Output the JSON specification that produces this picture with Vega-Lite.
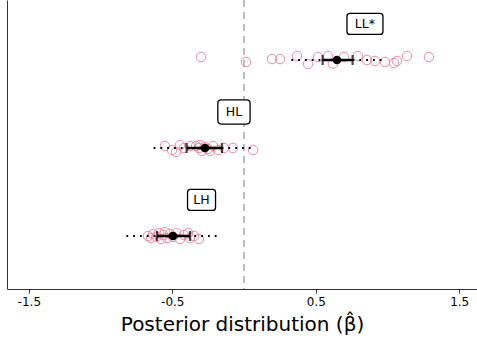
{
  "$schema": "https://vega.github.io/schema/vega-lite/v6.json",
  "width": 470,
  "height": 289,
  "autosize": {"type": "none"},
  "padding": {"left": 7, "top": 0, "right": 0, "bottom": 51},
  "background": "white",
  "config": {
    "view": {"stroke": null},
    "font": "DejaVu Sans",
    "axis": {"grid": false}
  },
  "datasets": {
    "points": [
      {"group": "LL*", "value": -0.300, "jitter": 0.034},
      {"group": "LL*", "value": 0.014, "jitter": -0.023},
      {"group": "LL*", "value": 0.195, "jitter": 0.011},
      {"group": "LL*", "value": 0.251, "jitter": 0.011},
      {"group": "LL*", "value": 0.369, "jitter": 0.045},
      {"group": "LL*", "value": 0.446, "jitter": -0.045},
      {"group": "LL*", "value": 0.516, "jitter": 0.034},
      {"group": "LL*", "value": 0.585, "jitter": 0.045},
      {"group": "LL*", "value": 0.620, "jitter": -0.040},
      {"group": "LL*", "value": 0.697, "jitter": 0.034},
      {"group": "LL*", "value": 0.794, "jitter": 0.045},
      {"group": "LL*", "value": 0.857, "jitter": 0.0},
      {"group": "LL*", "value": 0.913, "jitter": -0.011},
      {"group": "LL*", "value": 0.983, "jitter": -0.023},
      {"group": "LL*", "value": 1.045, "jitter": -0.034},
      {"group": "LL*", "value": 1.066, "jitter": -0.011},
      {"group": "LL*", "value": 1.136, "jitter": 0.045},
      {"group": "LL*", "value": 1.289, "jitter": 0.034},
      {"group": "HL", "value": -0.551, "jitter": 0.023},
      {"group": "HL", "value": -0.502, "jitter": -0.023},
      {"group": "HL", "value": -0.474, "jitter": -0.045},
      {"group": "HL", "value": -0.446, "jitter": 0.034},
      {"group": "HL", "value": -0.418, "jitter": 0.0},
      {"group": "HL", "value": -0.376, "jitter": 0.023},
      {"group": "HL", "value": -0.334, "jitter": 0.023},
      {"group": "HL", "value": -0.314, "jitter": 0.0},
      {"group": "HL", "value": -0.307, "jitter": 0.034},
      {"group": "HL", "value": -0.293, "jitter": -0.034},
      {"group": "HL", "value": -0.272, "jitter": 0.011},
      {"group": "HL", "value": -0.251, "jitter": -0.011},
      {"group": "HL", "value": -0.237, "jitter": -0.034},
      {"group": "HL", "value": -0.216, "jitter": 0.023},
      {"group": "HL", "value": -0.181, "jitter": -0.023},
      {"group": "HL", "value": -0.139, "jitter": 0.0},
      {"group": "HL", "value": -0.077, "jitter": 0.0},
      {"group": "HL", "value": 0.063, "jitter": -0.023},
      {"group": "LH", "value": -0.669, "jitter": 0.0},
      {"group": "LH", "value": -0.648, "jitter": -0.023},
      {"group": "LH", "value": -0.634, "jitter": 0.023},
      {"group": "LH", "value": -0.613, "jitter": -0.011},
      {"group": "LH", "value": -0.592, "jitter": 0.034},
      {"group": "LH", "value": -0.578, "jitter": -0.034},
      {"group": "LH", "value": -0.564, "jitter": 0.011},
      {"group": "LH", "value": -0.551, "jitter": 0.045},
      {"group": "LH", "value": -0.537, "jitter": -0.023},
      {"group": "LH", "value": -0.516, "jitter": 0.023},
      {"group": "LH", "value": -0.495, "jitter": -0.011},
      {"group": "LH", "value": -0.474, "jitter": 0.034},
      {"group": "LH", "value": -0.446, "jitter": -0.034},
      {"group": "LH", "value": -0.418, "jitter": 0.011},
      {"group": "LH", "value": -0.390, "jitter": 0.034},
      {"group": "LH", "value": -0.376, "jitter": -0.023},
      {"group": "LH", "value": -0.348, "jitter": 0.0},
      {"group": "LH", "value": -0.314, "jitter": -0.034}
    ],
    "summary": [
      {"group": "LL*", "mean": 0.648, "lo": 0.548, "hi": 0.757, "lo95": 0.33, "hi95": 0.97},
      {"group": "HL", "mean": -0.272, "lo": -0.40, "hi": -0.153, "lo95": -0.63, "hi95": 0.06},
      {"group": "LH", "mean": -0.495, "lo": -0.606, "hi": -0.376, "lo95": -0.82, "hi95": -0.18}
    ],
    "labels": [
      {"group": "LL*", "x": 0.843},
      {"group": "HL", "x": -0.070},
      {"group": "LH", "x": -0.296}
    ]
  },
  "layer": [
    {
      "data": {"values": [{"ref": 0}]},
      "mark": {"type": "rule", "color": "#bdbdbd", "strokeWidth": 2, "strokeDash": [7, 5]},
      "encoding": {
        "x": {
          "field": "ref",
          "type": "quantitative",
          "scale": {"domain": [-1.652, 1.624], "nice": false, "zero": false},
          "axis": {
            "values": [-1.5, -0.5, 0.5, 1.5],
            "labelExpr": "(datum.value < 0 ? '-' : '') + format(abs(datum.value), '.1f')",
            "title": "Posterior distribution (β̂)",
            "titleFont": "DejaVu Sans",
            "titleFontSize": 20,
            "titleFontWeight": "normal",
            "titleColor": "#000000",
            "titlePadding": 7,
            "labelFont": "DejaVu Sans",
            "labelFontSize": 12,
            "labelColor": "#000000",
            "labelPadding": 3,
            "tickSize": 4,
            "tickColor": "#333333",
            "domainColor": "#333333"
          }
        }
      }
    },
    {
      "data": {"name": "points"},
      "transform": [
        {"calculate": "indexof(['LH', 'HL', 'LL*'], datum.group) + 1 + datum.jitter", "as": "ypos"}
      ],
      "mark": {"type": "point", "shape": "circle", "filled": false, "stroke": "#e8819d", "strokeWidth": 1, "size": 90, "opacity": 0.9},
      "encoding": {
        "x": {"field": "value", "type": "quantitative"},
        "y": {
          "field": "ypos",
          "type": "quantitative",
          "scale": {"domain": [0.398, 3.682], "nice": false, "zero": false},
          "axis": {"title": null, "labels": false, "ticks": false, "domain": true, "domainColor": "#333333"}
        }
      }
    },
    {
      "data": {"name": "summary"},
      "transform": [
        {"calculate": "indexof(['LH', 'HL', 'LL*'], datum.group) + 1", "as": "ypos"}
      ],
      "layer": [
        {
          "mark": {"type": "rule", "color": "#000000", "strokeWidth": 2, "strokeDash": [1.8, 5], "strokeCap": "butt"},
          "encoding": {
            "x": {"field": "lo95", "type": "quantitative"},
            "x2": {"field": "hi95"},
            "y": {"field": "ypos", "type": "quantitative"}
          }
        },
        {
          "mark": {"type": "rule", "color": "#000000", "strokeWidth": 2.5},
          "encoding": {
            "x": {"field": "lo", "type": "quantitative"},
            "x2": {"field": "hi"},
            "y": {"field": "ypos", "type": "quantitative"}
          }
        },
        {
          "mark": {"type": "tick", "orient": "vertical", "size": 10, "thickness": 2.2, "color": "#000000"},
          "encoding": {
            "x": {"field": "lo", "type": "quantitative"},
            "y": {"field": "ypos", "type": "quantitative"}
          }
        },
        {
          "mark": {"type": "tick", "orient": "vertical", "size": 10, "thickness": 2.2, "color": "#000000"},
          "encoding": {
            "x": {"field": "hi", "type": "quantitative"},
            "y": {"field": "ypos", "type": "quantitative"}
          }
        },
        {
          "mark": {"type": "point", "shape": "circle", "filled": true, "color": "#000000", "size": 75, "opacity": 1},
          "encoding": {
            "x": {"field": "mean", "type": "quantitative"},
            "y": {"field": "ypos", "type": "quantitative"}
          }
        }
      ]
    },
    {
      "data": {"name": "labels"},
      "transform": [
        {"calculate": "indexof(['LH', 'HL', 'LL*'], datum.group) + 1.41", "as": "ypos"}
      ],
      "layer": [
        {
          "mark": {"type": "point", "filled": true, "fill": "white", "stroke": "#000000", "strokeWidth": 1.3, "opacity": 1},
          "encoding": {
            "x": {"field": "x", "type": "quantitative"},
            "y": {"field": "ypos", "type": "quantitative"},
            "shape": {
              "field": "group",
              "type": "nominal",
              "legend": null,
              "scale": {
                "domain": ["LL*", "HL", "LH"],
                "range": [
                  "M-0.833,-0.583 L0.833,-0.583 Q1,-0.583 1,-0.417 L1,0.417 Q1,0.583 0.833,0.583 L-0.833,0.583 Q-1,0.583 -1,0.417 L-1,-0.417 Q-1,-0.583 -0.833,-0.583 Z",
                  "M-0.786,-0.75 L0.786,-0.75 Q1,-0.75 1,-0.536 L1,0.536 Q1,0.75 0.786,0.75 L-0.786,0.75 Q-1,0.75 -1,0.536 L-1,-0.536 Q-1,-0.75 -0.786,-0.75 Z",
                  "M-0.786,-0.75 L0.786,-0.75 Q1,-0.75 1,-0.536 L1,0.536 Q1,0.75 0.786,0.75 L-0.786,0.75 Q-1,0.75 -1,0.536 L-1,-0.536 Q-1,-0.75 -0.786,-0.75 Z"
                ]
              }
            },
            "size": {
              "field": "group",
              "type": "nominal",
              "legend": null,
              "scale": {"domain": ["LL*", "HL", "LH"], "range": [1296, 784, 784]}
            }
          }
        },
        {
          "mark": {"type": "text", "fontSize": 12.5, "color": "#000000", "align": "center", "baseline": "middle", "font": "DejaVu Sans"},
          "encoding": {
            "x": {"field": "x", "type": "quantitative"},
            "y": {"field": "ypos", "type": "quantitative"},
            "text": {"field": "group", "type": "nominal"}
          }
        }
      ]
    }
  ]
}
